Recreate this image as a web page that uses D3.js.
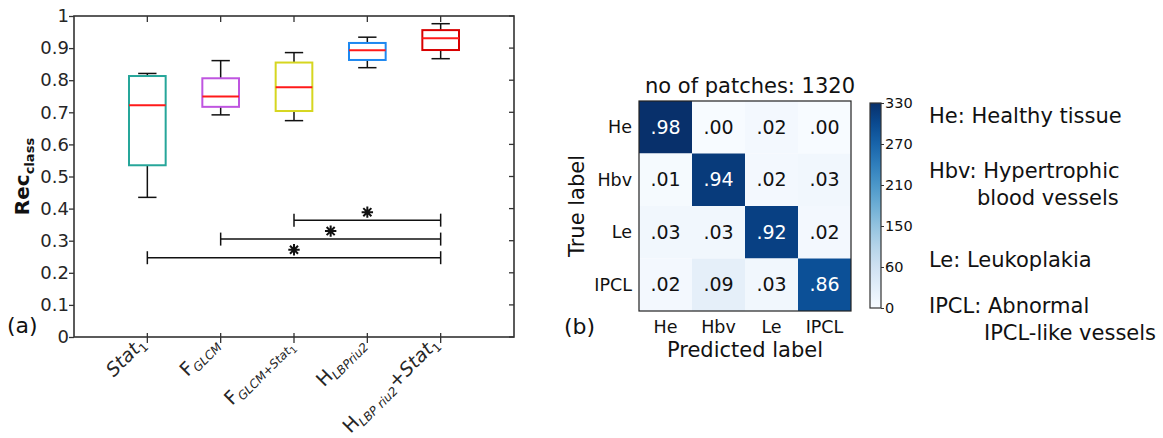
<!DOCTYPE html>
<html lang="en">
<head>
    <meta charset="UTF-8">
    <title>Rec class boxplot and confusion matrix</title>
    <script src="https://d3js.org/d3.v7.min.js"></script>
    <style>
        body { margin: 0; background: #fff; }
        svg { font-family: "DejaVu Sans", sans-serif; }
    </style>
</head>
<body>
<div id="chart"></div>
<script>

    // ---- data: panel (a) boxplot ----
    var methods = ["Stat1", "FGLCM", "FGLCM+Stat1", "HLBPriu2", "HLBPriu2+Stat1"];
    var whiskerLow = [0.435, 0.692, 0.674, 0.839, 0.867];
    var q1 = [0.535, 0.717, 0.704, 0.863, 0.894];
    var median = [0.722, 0.749, 0.778, 0.893, 0.931];
    var q3 = [0.813, 0.806, 0.855, 0.916, 0.956];
    var whiskerHigh = [0.821, 0.861, 0.886, 0.934, 0.976];
    var boxColors = ["#26a69a", "#bf55e0", "#d6d620", "#1e88f0", "#d80000"];

    // tick label pieces: [text, level (0 normal, 1 sub, 2 subsub), italic]
    var methodLabels = [
        [["Stat", 0, true], ["1", 1, false]],
        [["F", 0, false], ["GLCM", 1, true]],
        [["F", 0, false], ["GLCM+Stat", 1, true], ["1", 2, false]],
        [["H", 0, false], ["LBPriu2", 1, true]],
        [["H", 0, false], ["LBP riu2", 1, true], ["+", 0, false], ["Stat", 0, true], ["1", 1, false]]
    ];

    // significance brackets (from method index, to method index, height)
    var sigFrom = [3, 2, 1];
    var sigTo = [5, 5, 5];
    var sigY = [0.364, 0.305, 0.247];

    // ---- data: panel (b) confusion matrix ----
    var classes = ["He", "Hbv", "Le", "IPCL"];
    var matrix = [
        [0.98, 0.00, 0.02, 0.00],
        [0.01, 0.94, 0.02, 0.03],
        [0.03, 0.03, 0.92, 0.02],
        [0.02, 0.09, 0.03, 0.86]
    ];
    var patchesPerClass = 330;
    var colorbarTicks = [0, 60, 150, 210, 270, 330];
    var legendLines = [
        ["He: Healthy tissue"],
        ["Hbv: Hypertrophic", "blood vessels"],
        ["Le: Leukoplakia"],
        ["IPCL: Abnormal", "IPCL-like vessels"]
    ];

    var W = 1163, H = 438;
    var svg = d3.select("#chart").append("svg")
        .attr("width", W)
        .attr("height", H);

    var axisColor = "#333";
    var textColor = "#262626";

    // ================= panel (a) =================
    var a = {left: 74, right: 514, top: 16, bottom: 337};

    var x = d3.scaleLinear().domain([0, 6]).range([a.left, a.right]);
    var y = d3.scaleLinear().domain([0, 1]).range([a.bottom, a.top]);

    // y axis
    var yAxis = svg.append("g")
        .attr("transform", "translate(" + a.left + ",0)")
        .call(d3.axisLeft(y).ticks(10).tickSize(5).tickPadding(0).tickFormat(d3.format("~g")));
    yAxis.select(".domain").remove();
    yAxis.selectAll("line").attr("stroke", axisColor).attr("stroke-width", 1.3);
    yAxis.selectAll("text").attr("font-size", 18).attr("fill", textColor)
        .attr("font-family", "DejaVu Sans");

    // right side inner ticks
    svg.append("g").selectAll("line")
        .data(y.ticks(10))
        .join("line")
        .attr("x1", a.right - 5).attr("x2", a.right)
        .attr("y1", function (d) { return y(d); })
        .attr("y2", function (d) { return y(d); })
        .attr("stroke", axisColor).attr("stroke-width", 1.3);

    // bottom + top ticks at categories
    var catIdx = d3.range(1, methods.length + 1);
    svg.append("g").selectAll("line")
        .data(catIdx)
        .join("line")
        .attr("x1", function (d) { return x(d); })
        .attr("x2", function (d) { return x(d); })
        .attr("y1", a.bottom - 4).attr("y2", a.bottom + 6)
        .attr("stroke", axisColor).attr("stroke-width", 1.3);
    svg.append("g").selectAll("line")
        .data(catIdx)
        .join("line")
        .attr("x1", function (d) { return x(d); })
        .attr("x2", function (d) { return x(d); })
        .attr("y1", a.top).attr("y2", a.top + 6)
        .attr("stroke", axisColor).attr("stroke-width", 1.3);

    // frame
    svg.append("rect")
        .attr("x", a.left).attr("y", a.top)
        .attr("width", a.right - a.left).attr("height", a.bottom - a.top)
        .attr("fill", "none").attr("stroke", axisColor).attr("stroke-width", 1.6);

    // boxes
    var boxW = 0.5, capW = 0.25;
    var boxes = svg.append("g").selectAll("g")
        .data(methods)
        .join("g");

    boxes.append("line")
        .attr("x1", function (d, i) { return x(i + 1); })
        .attr("x2", function (d, i) { return x(i + 1); })
        .attr("y1", function (d, i) { return y(whiskerLow[i]); })
        .attr("y2", function (d, i) { return y(q1[i]); })
        .attr("stroke", "#111").attr("stroke-width", 1.5);
    boxes.append("line")
        .attr("x1", function (d, i) { return x(i + 1); })
        .attr("x2", function (d, i) { return x(i + 1); })
        .attr("y1", function (d, i) { return y(q3[i]); })
        .attr("y2", function (d, i) { return y(whiskerHigh[i]); })
        .attr("stroke", "#111").attr("stroke-width", 1.5);
    [whiskerLow, whiskerHigh].forEach(function (arr) {
        boxes.append("line")
            .attr("x1", function (d, i) { return x(i + 1 - capW / 2); })
            .attr("x2", function (d, i) { return x(i + 1 + capW / 2); })
            .attr("y1", function (d, i) { return y(arr[i]); })
            .attr("y2", function (d, i) { return y(arr[i]); })
            .attr("stroke", "#111").attr("stroke-width", 1.5);
    });
    boxes.append("rect")
        .attr("x", function (d, i) { return x(i + 1 - boxW / 2); })
        .attr("width", x(boxW) - x(0))
        .attr("y", function (d, i) { return y(q3[i]); })
        .attr("height", function (d, i) { return y(q1[i]) - y(q3[i]); })
        .attr("fill", "white")
        .attr("stroke", function (d, i) { return boxColors[i]; })
        .attr("stroke-width", 2);
    boxes.append("line")
        .attr("x1", function (d, i) { return x(i + 1 - boxW / 2); })
        .attr("x2", function (d, i) { return x(i + 1 + boxW / 2); })
        .attr("y1", function (d, i) { return y(median[i]); })
        .attr("y2", function (d, i) { return y(median[i]); })
        .attr("stroke", "#ff1a1a").attr("stroke-width", 2);

    // significance brackets
    var sig = svg.append("g").selectAll("g")
        .data(sigY)
        .join("g");
    sig.append("line")
        .attr("x1", function (d, i) { return x(sigFrom[i]); })
        .attr("x2", function (d, i) { return x(sigTo[i]); })
        .attr("y1", function (d) { return y(d); })
        .attr("y2", function (d) { return y(d); })
        .attr("stroke", "#111").attr("stroke-width", 1.5);
    sig.append("line")
        .attr("x1", function (d, i) { return x(sigFrom[i]); })
        .attr("x2", function (d, i) { return x(sigFrom[i]); })
        .attr("y1", function (d) { return y(d) - 6.5; })
        .attr("y2", function (d) { return y(d) + 6.5; })
        .attr("stroke", "#111").attr("stroke-width", 1.5);
    sig.append("line")
        .attr("x1", function (d, i) { return x(sigTo[i]); })
        .attr("x2", function (d, i) { return x(sigTo[i]); })
        .attr("y1", function (d) { return y(d) - 6.5; })
        .attr("y2", function (d) { return y(d) + 6.5; })
        .attr("stroke", "#111").attr("stroke-width", 1.5);

    // 8-arm asterisk symbol
    var star8 = {
        draw: function (context, size) {
            var r = Math.sqrt(size) / 2;
            for (var k = 0; k < 4; k++) {
                var ang = k * Math.PI / 4;
                context.moveTo(r * Math.cos(ang), r * Math.sin(ang));
                context.lineTo(-r * Math.cos(ang), -r * Math.sin(ang));
            }
        }
    };
    sig.append("path")
        .attr("d", d3.symbol().type(star8).size(130))
        .attr("transform", function (d, i) {
            return "translate(" + x((sigFrom[i] + sigTo[i]) / 2) + "," + (y(d) - 8) + ")";
        })
        .attr("fill", "none").attr("stroke", "#111").attr("stroke-width", 2);

    // x tick labels (rotated, with subscripts)
    var levelSize = [19, 12, 9.5];
    var levelShift = [0, 4, 7];
    var xl = svg.append("g").selectAll("text")
        .data(methodLabels)
        .join("text")
        .attr("transform", function (d, i) {
            return "translate(" + (x(i + 1) - 1) + "," + (a.bottom + 8) + ") rotate(-45)";
        })
        .attr("text-anchor", "end")
        .attr("fill", textColor);
    xl.each(function (parts) {
        var t = d3.select(this);
        var prev = 0;
        parts.forEach(function (p) {
            t.append("tspan")
                .attr("dy", levelShift[p[1]] - levelShift[prev])
                .attr("font-size", levelSize[p[1]])
                .attr("font-style", p[2] ? "italic" : "normal")
                .text(p[0]);
            prev = p[1];
        });
    });

    // y label
    var ylab = svg.append("text")
        .attr("transform", "translate(29," + ((a.top + a.bottom) / 2) + ") rotate(-90)")
        .attr("text-anchor", "middle")
        .attr("font-weight", "bold")
        .attr("fill", "#111");
    ylab.append("tspan").attr("font-size", 20).text("Rec");
    ylab.append("tspan").attr("font-size", 13).attr("dy", 5).text("class");

    svg.append("text").attr("x", 7).attr("y", 333)
        .attr("font-size", 22).attr("fill", "#111").text("(a)");

    // ================= panel (b) =================
    var b = {left: 639, right: 851, top: 101, bottom: 311};
    var bx = d3.scaleBand().domain(classes).range([b.left, b.right]);
    var by = d3.scaleBand().domain(classes).range([b.top, b.bottom]);
    var color = d3.scaleSequential(d3.interpolateBlues).domain([0, patchesPerClass * 0.98]);

    var cells = [];
    matrix.forEach(function (row, r) {
        row.forEach(function (v, c) {
            cells.push({row: classes[r], col: classes[c], v: v});
        });
    });

    svg.append("g").selectAll("rect")
        .data(cells)
        .join("rect")
        .attr("x", function (d) { return bx(d.col); })
        .attr("y", function (d) { return by(d.row); })
        .attr("width", bx.bandwidth())
        .attr("height", by.bandwidth())
        .attr("fill", function (d) { return color(d.v * patchesPerClass); });

    svg.append("g").selectAll("text")
        .data(cells)
        .join("text")
        .attr("x", function (d) { return bx(d.col) + bx.bandwidth() / 2; })
        .attr("y", function (d) { return by(d.row) + by.bandwidth() / 2; })
        .attr("dy", "0.35em")
        .attr("text-anchor", "middle")
        .attr("font-size", 19)
        .attr("fill", function (d) { return d.v > 0.5 ? "white" : "#111"; })
        .text(function (d) { return d3.format(".2f")(d.v).replace(/^0/, ""); });

    svg.append("rect")
        .attr("x", b.left).attr("y", b.top)
        .attr("width", b.right - b.left).attr("height", b.bottom - b.top)
        .attr("fill", "none").attr("stroke", "#222").attr("stroke-width", 1.2);

    // row / column labels
    svg.append("g").selectAll("text")
        .data(classes)
        .join("text")
        .attr("x", b.left - 7)
        .attr("y", function (d) { return by(d) + by.bandwidth() / 2; })
        .attr("dy", "0.35em")
        .attr("text-anchor", "end")
        .attr("font-size", 17.5)
        .attr("fill", "#111")
        .text(function (d) { return d; });
    svg.append("g").selectAll("text")
        .data(classes)
        .join("text")
        .attr("x", function (d) { return bx(d) + bx.bandwidth() / 2; })
        .attr("y", b.bottom + 22)
        .attr("text-anchor", "middle")
        .attr("font-size", 17.5)
        .attr("fill", "#111")
        .text(function (d) { return d; });

    svg.append("text")
        .attr("x", (b.left + b.right) / 2).attr("y", 357)
        .attr("text-anchor", "middle").attr("font-size", 21).attr("fill", "#111")
        .text("Predicted label");
    svg.append("text")
        .attr("transform", "translate(584," + ((b.top + b.bottom) / 2) + ") rotate(-90)")
        .attr("text-anchor", "middle").attr("font-size", 21).attr("fill", "#111")
        .text("True label");
    svg.append("text")
        .attr("x", 750).attr("y", 93)
        .attr("text-anchor", "middle").attr("font-size", 21).attr("fill", "#111")
        .text("no of patches: 1320");
    svg.append("text").attr("x", 564).attr("y", 334)
        .attr("font-size", 22).attr("fill", "#111").text("(b)");

    // colorbar
    var cb = {left: 870, right: 881, top: 103, bottom: 308};
    var grad = svg.append("defs").append("linearGradient")
        .attr("id", "cbgrad").attr("x1", 0).attr("y1", 1).attr("x2", 0).attr("y2", 0);
    grad.selectAll("stop")
        .data(d3.range(0, 1.0001, 0.1))
        .join("stop")
        .attr("offset", function (d) { return d; })
        .attr("stop-color", function (d) { return d3.interpolateBlues(d); });
    svg.append("rect")
        .attr("x", cb.left).attr("y", cb.top)
        .attr("width", cb.right - cb.left).attr("height", cb.bottom - cb.top)
        .attr("fill", "url(#cbgrad)").attr("stroke", "#333").attr("stroke-width", 1.2);

    var cbScale = d3.scalePoint().domain(colorbarTicks).range([cb.bottom, cb.top]);
    var cbAxis = svg.append("g")
        .attr("transform", "translate(" + cb.right + ",0)")
        .call(d3.axisRight(cbScale).tickSize(3).tickPadding(1));
    cbAxis.select(".domain").remove();
    cbAxis.selectAll("line").attr("stroke", "#333");
    cbAxis.selectAll("text").attr("font-size", 14.5).attr("fill", "#111")
        .attr("font-family", "DejaVu Sans");

    // legend text
    var legendY = [123, 178, 267, 313];
    var legendIndent = [0, 48, 0, 55];
    var lg = svg.append("g").selectAll("text")
        .data(legendLines)
        .join("text")
        .attr("x", 929)
        .attr("y", function (d, i) { return legendY[i]; })
        .attr("font-size", 21)
        .attr("fill", "#111");
    lg.each(function (lines, i) {
        var t = d3.select(this);
        lines.forEach(function (s, j) {
            t.append("tspan")
                .attr("x", 929 + (j ? legendIndent[i] : 0))
                .attr("dy", j ? 27 : 0)
                .text(s);
        });
    });

</script>
</body>
</html>
